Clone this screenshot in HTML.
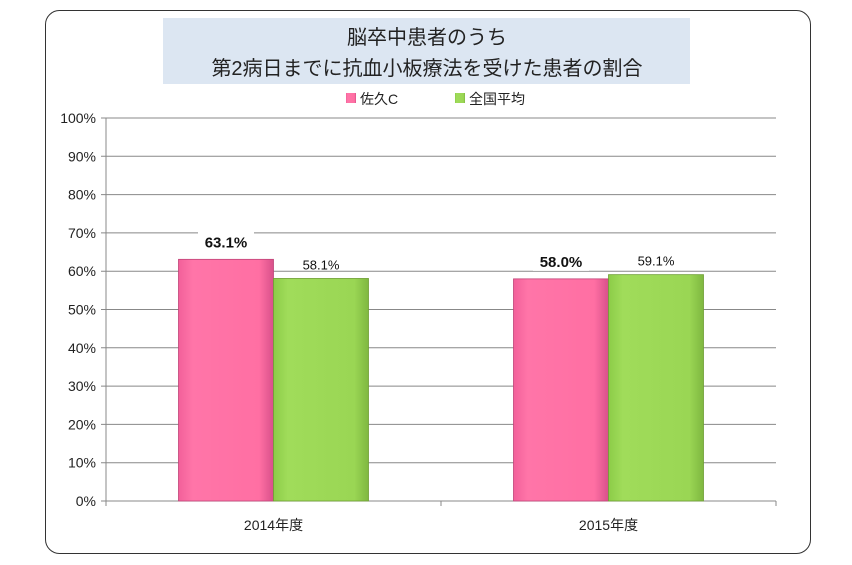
<!DOCTYPE html>
<html><head><meta charset="utf-8"><style>
body{margin:0;background:#fff;width:852px;height:560px;overflow:hidden;font-family:"Liberation Sans","Noto Sans CJK JP",sans-serif}
</style></head><body>
<svg width="852" height="560" style="font-family:'Liberation Sans','Noto Sans CJK JP',sans-serif">
<defs>
<linearGradient id="gp" x1="0" x2="1"><stop offset="0" stop-color="#f2609a"/><stop offset="0.15" stop-color="#ff75a8"/><stop offset="0.85" stop-color="#ff6fa3"/><stop offset="1" stop-color="#d8508a"/></linearGradient>
<linearGradient id="gg" x1="0" x2="1"><stop offset="0" stop-color="#8ccc48"/><stop offset="0.15" stop-color="#a0dc5a"/><stop offset="0.85" stop-color="#9ad654"/><stop offset="1" stop-color="#7fb840"/></linearGradient>
</defs>
<rect x="45.5" y="10.5" width="765" height="543" rx="14" fill="#fff" stroke="#333"/>
<rect x="163" y="18" width="527" height="66" fill="#dce6f2"/>
<text x="427" y="44" text-anchor="middle" font-size="20" fill="#222">脳卒中患者のうち</text>
<text x="427" y="75" text-anchor="middle" font-size="20" fill="#222">第2病日までに抗血小板療法を受けた患者の割合</text>
<g>
<rect x="346" y="93" width="10" height="10" fill="url(#gp)"/>
<text x="360" y="104" font-size="14" fill="#222">佐久C</text>
<rect x="455" y="93" width="10" height="10" fill="url(#gg)"/>
<text x="469" y="104" font-size="14" fill="#222">全国平均</text>
</g>
<g id="plot"></g>
</svg>
<script>
const categories=["2014年度","2015年度"];
const sakuValues=[63.1,58.0];
const nationalValues=[58.1,59.1];
const tickValues=[0,10,20,30,40,50,60,70,80,90,100];
const X0=106,X1=776,Y0=501,Y1=118;
const y=v=>Y0-(v/100)*(Y0-Y1);
const band=(X1-X0)/categories.length;
const NS="http://www.w3.org/2000/svg";
const g=document.getElementById('plot');
function mk(t,a){const e=document.createElementNS(NS,t);for(const k in a)e.setAttribute(k,a[k]);g.appendChild(e);return e;}
tickValues.forEach(v=>{
 const l=mk('line',{x1:X0-5,x2:X1,y1:y(v),y2:y(v),stroke:'#888','stroke-width':1});
 
 
 const t=mk('text',{x:X0-10,y:y(v)+5,'text-anchor':'end','font-size':14,fill:'#222'});
 t.textContent=v+'%';
 
 
});
const ax=mk('line',{x1:X0,x2:X0,y1:Y1,y2:Y0+5,stroke:'#888'});


for(let i=0;i<=categories.length;i++){
 const tk=mk('line',{x1:X0+band*i,x2:X0+band*i,y1:Y0,y2:Y0+5,stroke:'#888'});
 
 
}
const bw=95;
categories.forEach((c,i)=>{
 const cx=X0+band*(i+0.5);
 [[sakuValues[i],'url(#gp)',cx-bw,'bold','saku'],[nationalValues[i],'url(#gg)',cx,'normal','national']].forEach(([v,f,x,fw,n])=>{
  const r=mk('rect',{x:x,y:y(v),width:bw,height:Y0-y(v),fill:f,stroke:n==='saku'?'#c04478':'#6e9e34','stroke-width':0.8});
  
  
  const lw=fw==='bold'?56:50;
  const bg=mk('rect',{x:x+bw/2-lw/2,y:y(v)-30,width:lw,height:22,fill:'#fff'});
  
  
  const t=mk('text',{x:x+bw/2,y:y(v)-(fw==='bold'?12:9),'text-anchor':'middle','font-size':fw==='bold'?15:13,'font-weight':fw,fill:'#111'});
  t.textContent=v.toFixed(1)+'%';
  
  
 });
 const t=mk('text',{x:cx,y:Y0+29,'text-anchor':'middle','font-size':14,fill:'#222'});
 t.textContent=c;
 
 
});
</script>
</body></html>
